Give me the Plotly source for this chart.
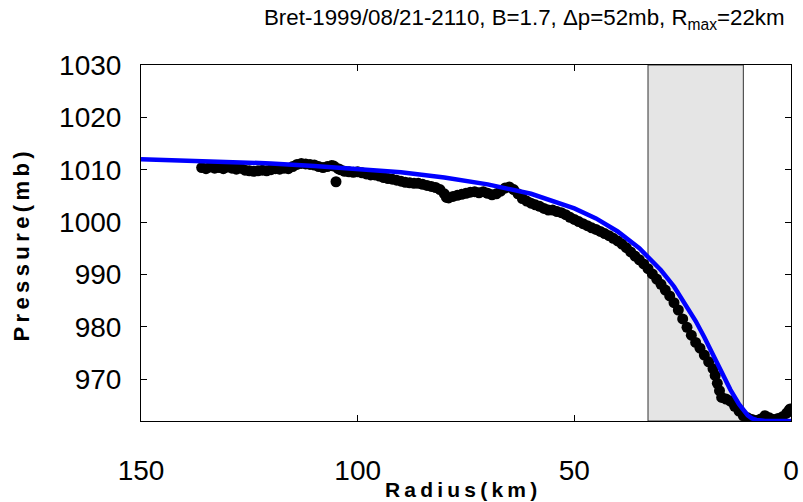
import plotly.graph_objects as go

# ---- data ----
obs_r = [136, 135, 134, 133, 132, 131, 130, 129, 128, 127, 126, 125, 124, 123, 122, 121, 120,
         119, 118, 117, 116, 115, 114, 113, 112, 111, 110, 109, 108, 107, 106, 105.5, 105, 104.5,
         104, 103, 102, 101, 100, 99, 98, 97, 96, 95, 94, 93, 92, 91, 90, 89, 88, 87, 86, 85,
         84, 83, 82, 81, 80, 79.5, 79, 78, 77, 76, 75, 74, 73, 72, 71, 70, 69, 68, 67, 66, 65,
         64, 63, 62, 61, 60, 59, 58, 57, 56, 55, 54, 53, 52, 51, 50, 49, 48, 47, 46, 45, 44,
         43, 42, 41, 40, 39, 38, 37, 36, 35, 34, 33, 32, 31, 30, 29, 28, 27, 26, 25, 24, 23,
         22, 21, 20, 19, 18, 17.5, 17, 16.5, 16, 15, 14, 13, 12, 11, 10, 9, 8, 7, 6, 5, 4, 3,
         2, 1, 0.5, 0.2]
obs_p = [1010.4, 1010.2, 1010.5, 1010.3, 1010.4, 1010.2, 1010.5, 1010.3, 1010.1, 1010.3, 1009.9,
         1009.8, 1009.7, 1009.8, 1009.9, 1009.8, 1010.0, 1010.2, 1010.1, 1010.3, 1010.2, 1010.6,
         1011.0, 1011.2, 1011.1, 1011.0, 1010.9, 1010.6, 1010.4, 1010.6, 1010.8, 1010.7, 1007.7,
         1010.2, 1010.0, 1009.7, 1009.6, 1009.5, 1009.6, 1009.4, 1009.2, 1009.0, 1009.0, 1008.8,
         1008.5, 1008.3, 1008.2, 1008.0, 1007.8, 1007.6, 1007.5, 1007.4, 1007.4, 1007.2, 1007.0,
         1006.8, 1006.6, 1006.2, 1005.4, 1004.7, 1004.6, 1004.9, 1005.1, 1005.3, 1005.5, 1005.7,
         1005.8, 1005.6, 1005.8, 1005.5, 1005.2, 1005.4, 1005.9, 1006.5, 1006.7, 1006.2, 1005.4,
         1004.5, 1004.0, 1003.6, 1003.3, 1003.0, 1002.6, 1002.3, 1002.3, 1002.0, 1001.8, 1001.4,
         1000.9, 1000.5, 1000.1, 999.7, 999.3, 998.9, 998.6, 998.2, 997.8, 997.4, 996.9, 996.4,
         995.8, 995.1, 994.3, 993.5, 992.8, 992.0, 991.1, 990.1, 989.1, 988.1, 987.0, 985.9,
         984.6, 983.2, 981.5, 979.9, 978.4, 977.0, 975.9, 974.6, 973.3, 972.0, 970.7, 969.2,
         967.8, 966.5, 966.2, 965.8, 964.8, 963.9, 963.0, 962.6, 962.3, 962.1, 962.4, 963.0,
         962.6, 962.3, 962.5, 962.8, 963.5, 964.0, 964.3]

model_r = [150, 140, 130, 120, 110, 100, 90, 80, 70, 60, 50, 45, 40, 35, 30, 27, 24, 22, 20,
           18, 16, 14, 12, 11, 10, 9, 8, 6, 4, 2, 0]
model_p = [1012.0, 1011.8, 1011.5, 1011.2, 1010.7, 1010.2, 1009.5, 1008.5, 1007.2, 1005.4,
           1002.6, 1000.7, 998.2, 995.0, 990.8, 987.7, 983.9, 981.1, 978.0, 974.7, 971.3,
           968.0, 965.2, 964.0, 963.1, 962.5, 962.2, 962.0, 962.0, 962.0, 962.0]

band_r = [33, 11]          # shaded radius band (km)
x_ticks = [150, 100, 50, 0]
y_ticks = [970, 980, 990, 1000, 1010, 1020, 1030]
title_txt = "Bret-1999/08/21-2110, B=1.7, \u0394p=52mb, R<sub>max</sub>=22km"
xlabel_txt = "Radius(km)"
ylabel_txt = "Pressure(mb)"

FONT = "Liberation Sans, Arial, sans-serif"
TS = "\u2009"  # thin space used as letter spacing


def spaced(s):
    return TS.join(list(s))


fig = go.Figure()
fig.add_trace(go.Scatter(x=obs_r, y=obs_p, mode="markers",
                         marker=dict(color="black", size=11, line=dict(width=0)),
                         showlegend=False))
fig.add_trace(go.Scatter(x=model_r, y=model_p, mode="lines",
                         line=dict(color="#0000ff", width=4.5), showlegend=False))

fig.add_shape(type="rect", xref="x", yref="paper", x0=band_r[0], x1=band_r[1], y0=0, y1=1,
              fillcolor="#e5e5e5", line=dict(color="#333333", width=1), layer="below")

axis_common = dict(showline=True, linecolor="black", linewidth=1, mirror="allticks",
                   ticks="inside", ticklen=6, tickcolor="black", showgrid=False,
                   zeroline=False, automargin=False,
                   tickfont=dict(family=FONT, size=28, color="black"))

fig.update_xaxes(range=[150, 0], tickvals=x_ticks, ticktext=[str(v) for v in x_ticks],
                 ticklabelstandoff=24, **axis_common)
fig.update_yaxes(range=[962, 1030], tickvals=y_ticks, ticktext=[str(v) for v in y_ticks],
                 ticklabelstandoff=13, **axis_common)

fig.add_annotation(text=title_txt, xref="paper", yref="paper", x=0.186, y=1.129,
                   xanchor="left", yanchor="middle", showarrow=False,
                   font=dict(family=FONT, size=22.3, color="black"))
fig.add_annotation(text="<b>" + spaced(xlabel_txt) + "</b>", xref="paper", yref="paper",
                   x=0.492, y=-0.192, xanchor="center", yanchor="middle", showarrow=False,
                   font=dict(family=FONT, size=21, color="black"))
fig.add_annotation(text="<b>" + spaced(ylabel_txt) + "</b>", xref="paper", yref="paper",
                   x=-0.183, y=0.49, xanchor="center", yanchor="middle", showarrow=False,
                   textangle=-90, font=dict(family=FONT, size=22, color="black"))

fig.update_layout(width=803, height=502, margin=dict(l=141, r=12, t=65, b=81),
                  plot_bgcolor="white", paper_bgcolor="white")

fig.write_html("out.html")
